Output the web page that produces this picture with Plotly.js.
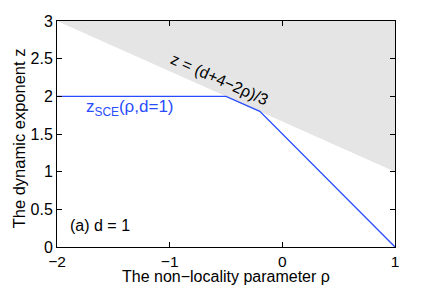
<!DOCTYPE html>
<html><head><meta charset="utf-8">
<script src="https://cdn.plot.ly/plotly-3.0.1.min.js"></script>
<style>body{margin:0;padding:0;background:#fff}#chart{width:436px;height:285px}</style>
</head><body><div id="chart"></div>
<script>
// Shaded forbidden region above z = (d+4-2rho)/3, d = 1
var regionRho = [-2, 1, 1, -2];
var regionZ = [3, 3, 1, 3];
// z_SCE(rho, d=1)
var sceRho = [-2, -0.5, -0.2, 1];
var sceZ = [2, 2, 1.8, 0];
var xTicks = [-2, -1, 0, 1];
var xTickText = ['\u22122', '\u22121', '0', '1'];
var yTicks = [0, 0.5, 1, 1.5, 2, 2.5, 3];
var yTickText = ['0', '0.5', '1', '1.5', '2', '2.5', '3'];
var xTitle = 'The non\u2212locality parameter \u03c1';
var yTitle = 'The dynamic exponent z';

var font = 'Liberation Sans, Arial, Helvetica, sans-serif';
var traces = [
  {x: regionRho, y: regionZ, type: 'scatter', mode: 'lines', fill: 'toself',
   fillcolor: '#e5e5e5', line: {width: 0, color: 'rgba(0,0,0,0)'}, hoverinfo: 'skip'},
  {x: sceRho, y: sceZ, type: 'scatter', mode: 'lines',
   line: {color: '#2a4cff', width: 1.3}}
];
var layout = {
  width: 436, height: 285,
  margin: {l: 57, r: 41, t: 21, b: 38},
  showlegend: false,
  paper_bgcolor: '#fff', plot_bgcolor: '#fff',
  font: {family: font, size: 16, color: '#000'},
  xaxis: {range: [-2, 1], tickvals: xTicks, ticktext: xTickText,
    ticks: 'inside', ticklen: 5, tickwidth: 1, tickcolor: '#000',
    showline: true, linecolor: '#000', linewidth: 1, mirror: 'ticks',
    showgrid: false, zeroline: false, tickfont: {size: 15.5}},
  yaxis: {range: [0, 3], tickvals: yTicks, ticktext: yTickText,
    ticks: 'inside', ticklen: 5, tickwidth: 1, tickcolor: '#000',
    showline: true, linecolor: '#000', linewidth: 1, mirror: 'ticks',
    showgrid: false, zeroline: false, tickfont: {size: 16}},
  annotations: [
    {x: 0.5, y: -0.13, xref: 'paper', yref: 'paper', text: xTitle,
     showarrow: false, xanchor: 'center', yanchor: 'middle', font: {size: 16, color: '#000'}},
    {x: -0.113, y: 0.48, xref: 'paper', yref: 'paper', text: yTitle, textangle: -90,
     showarrow: false, xanchor: 'center', yanchor: 'middle', font: {size: 16.5, color: '#000'}},
    {x: -0.554, y: 2.22, xref: 'x', yref: 'y', text: 'z = (d+4\u22122\u03c1)/3',
     showarrow: false, textangle: 24, font: {size: 16, color: '#000'}},
    {x: -1.35, y: 1.84, xref: 'x', yref: 'y', text: 'z<sub>SCE</sub>(\u03c1,d=1)',
     showarrow: false, font: {size: 17, color: '#2a4cff'}},
    {x: -1.62, y: 0.29, xref: 'x', yref: 'y', text: '(a) d = 1',
     showarrow: false, font: {size: 16, color: '#000'}}
  ]
};
Plotly.newPlot('chart', traces, layout, {displayModeBar: false, staticPlot: true});
</script></body></html>
